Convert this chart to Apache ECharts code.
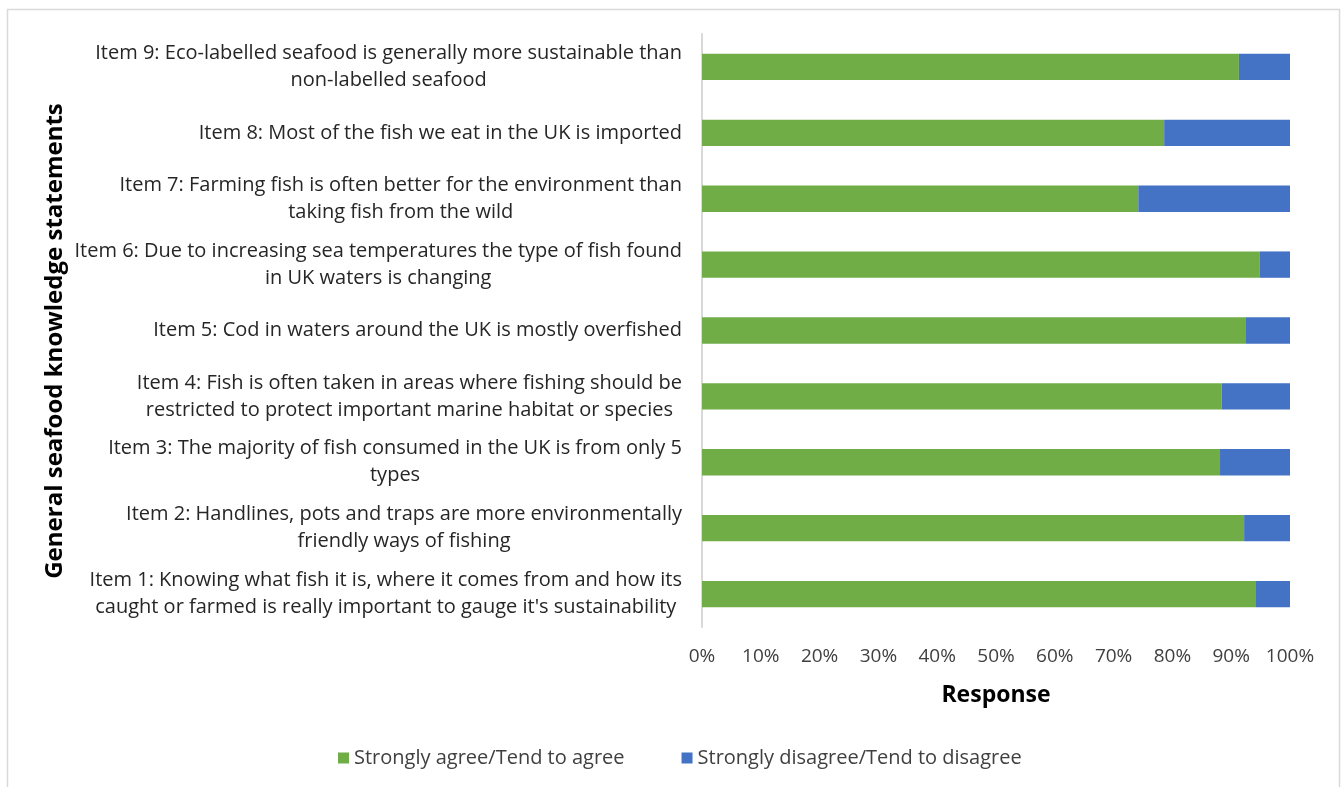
<!DOCTYPE html>
<html>
<head>
<meta charset="utf-8">
<title>General seafood knowledge statements</title>
<script src="https://cdn.jsdelivr.net/npm/echarts@6/dist/echarts.min.js"></script>
<style>
  html, body { margin: 0; padding: 0; background: #fff; }
  #chart { width: 1343px; height: 787px; }
</style>
</head>
<body>
<div id="chart"></div>
<script>
// Statements, listed bottom to top along the category axis
const statements = [
  "Item 1: Knowing what fish it is, where it comes from and how its\ncaught or farmed is really important to gauge it's sustainability",
  "Item 2: Handlines, pots and traps are more environmentally\nfriendly ways of fishing",
  "Item 3: The majority of fish consumed in the UK is from only 5\ntypes",
  "Item 4: Fish is often taken in areas where fishing should be\nrestricted to protect important marine habitat or species",
  "Item 5: Cod in waters around the UK is mostly overfished",
  "Item 6: Due to increasing sea temperatures the type of fish found\nin UK waters is changing",
  "Item 7: Farming fish is often better for the environment than\ntaking fish from the wild",
  "Item 8: Most of the fish we eat in the UK is imported",
  "Item 9: Eco-labelled seafood is generally more sustainable than\nnon-labelled seafood"
];

// Share of responses (%)
const agree    = [94.1, 92.2, 88.1, 88.4, 92.4, 94.8, 74.2, 78.6, 91.3];
const disagree = [5.9, 7.8, 11.9, 11.6, 7.6, 5.2, 25.8, 21.4, 8.7];

const seriesNames = ["Strongly agree/Tend to agree", "Strongly disagree/Tend to disagree"];
const axisTitles = { x: "Response", y: "General seafood knowledge statements" };

const FONT = "Open Sans";
const chart = echarts.init(document.getElementById('chart'));

chart.setOption({
  animation: false,
  textStyle: { fontFamily: FONT },
  graphic: [
    {
      type: 'rect',
      shape: { x: 7.5, y: 9.5, width: 1332, height: 790 },
      style: { fill: 'none', stroke: '#d9d9d9', lineWidth: 1.5 },
      silent: true
    },
    {
      // vertical title for the statement axis
      type: 'text',
      x: 55,
      y: 341,
      rotation: Math.PI / 2,
      silent: true,
      style: {
        text: axisTitles.y,
        fontFamily: FONT,
        fontSize: 24,
        fontWeight: 'bold',
        fill: '#000',
        align: 'center',
        verticalAlign: 'middle'
      }
    }
  ],
  grid: { left: 702, right: 53, top: 34, bottom: 160, containLabel: false },
  legend: {
    bottom: 14,
    left: 333,
    itemWidth: 11,
    itemHeight: 11,
    itemGap: 57,
    icon: 'rect',
    textStyle: { fontFamily: FONT, fontSize: 20, color: '#404040' },
    data: seriesNames
  },
  xAxis: {
    type: 'value',
    min: 0,
    max: 100,
    interval: 10,
    name: axisTitles.x,
    nameLocation: 'middle',
    nameGap: 57,
    nameTextStyle: { fontFamily: FONT, fontSize: 23, fontWeight: 'bold', color: '#000' },
    axisLine: { show: false },
    axisTick: { show: false },
    splitLine: { show: false },
    axisLabel: { formatter: '{value}%', fontSize: 19, color: '#404040', margin: 20 }
  },
  yAxis: {
    type: 'category',
    data: statements,
    axisLine: { show: true, lineStyle: { color: '#d9d9d9', width: 2 } },
    axisTick: { show: false },
    axisLabel: {
      margin: 20,
      lineHeight: 27,
      formatter: v => v.split('\n').map(l => '{c|' + l + '}').join('\n'),
      rich: { c: { align: 'center', fontSize: 20, color: '#262626', fontFamily: FONT, lineHeight: 27 } }
    }
  },
  series: [
    {
      name: seriesNames[0],
      type: 'bar',
      stack: 'total',
      barWidth: '40%',
      itemStyle: { color: '#70AD47' },
      data: agree
    },
    {
      name: seriesNames[1],
      type: 'bar',
      stack: 'total',
      barWidth: '40%',
      itemStyle: { color: '#4472C4' },
      data: disagree
    }
  ]
});
</script>
</body>
</html>
